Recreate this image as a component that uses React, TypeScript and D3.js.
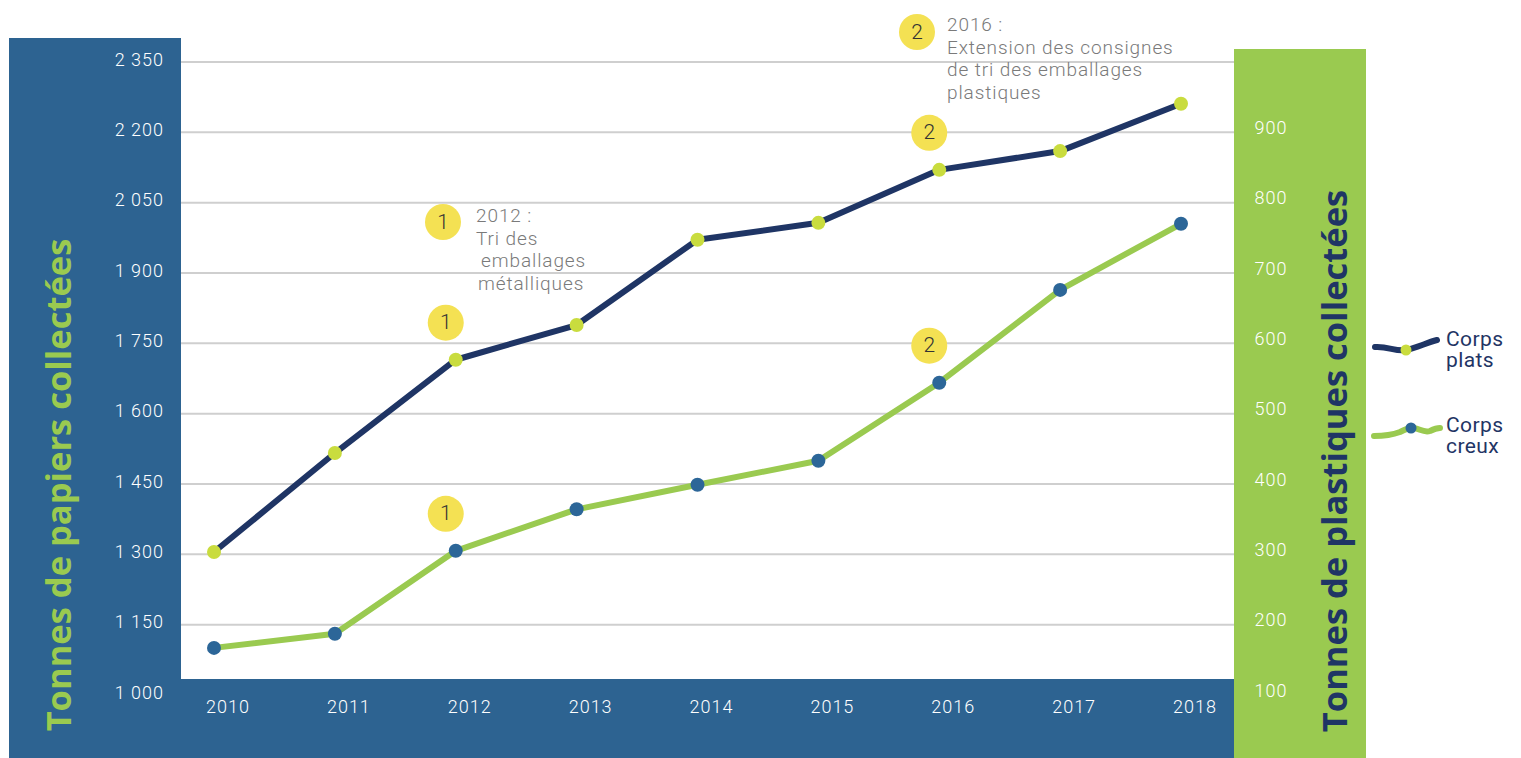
import { useEffect, useRef } from "react";
import * as d3 from "d3";

// data
const years = ["2010", "2011", "2012", "2013", "2014", "2015", "2016", "2017", "2018"];
const corpsPlats = [1305, 1516, 1715, 1789, 1971, 2007, 2120, 2160, 2261]; // left axis (papiers)
const corpsCreux = [167, 187, 305, 364, 399, 433, 544, 676, 770]; // right axis (plastiques)
const leftTicks = [1000, 1150, 1300, 1450, 1600, 1750, 1900, 2050, 2200, 2350];
const rightTicks = [100, 200, 300, 400, 500, 600, 700, 800, 900];
const gridTicks = [1150, 1300, 1450, 1600, 1750, 1900, 2050, 2200, 2350];

const annotations = [
    { year: "2012", series: "plats", label: "1" },
    { year: "2012", series: "creux", label: "1" },
    { year: "2016", series: "plats", label: "2" },
    { year: "2016", series: "creux", label: "2" },
];

const BLUE = "#2d6391";
const GREEN = "#9aca50";
const NAVY = "#1f3565";
const DOT_GREEN = "#c9dc3e";
const DOT_BLUE = "#2c6698";
const YELLOW = "#f4e153";
const NOTE = "#7a7a7a";
const FONT = "Roboto, 'Open Sans', sans-serif";

const fmt = (v: number) => (v >= 1000 ? `${Math.floor(v / 1000)} ${String(v % 1000).padStart(3, "0")}` : String(v));

const App = () => {
    const ref = useRef<SVGSVGElement>(null);

    useEffect(() => {
        document.body.style.margin = "0";
        const svg = d3.select(ref.current);
        svg.selectAll("*").remove();

        const x = d3.scalePoint<string>().domain(years).range([214, 1181]);
        const yL = d3.scaleLinear().domain([1000, 2350]).range([695, 62]);
        const yR = d3.scaleLinear().domain([100, 1000]).range([695, 62]);

        // gridlines
        svg.append("g")
            .selectAll("line")
            .data(gridTicks)
            .enter().append("line")
            .attr("x1", 181)
            .attr("x2", 1234)
            .attr("y1", d => yL(d))
            .attr("y2", d => yL(d))
            .attr("stroke", "#cfcfcf")
            .attr("stroke-width", 2);

        // panels
        svg.append("rect").attr("x", 9).attr("y", 38).attr("width", 172).attr("height", 720).attr("fill", BLUE);
        svg.append("rect").attr("x", 9).attr("y", 679).attr("width", 1226).attr("height", 79).attr("fill", BLUE);
        svg.append("rect").attr("x", 1234).attr("y", 49).attr("width", 132).attr("height", 709).attr("fill", GREEN);

        // left ticks
        svg.append("g")
            .selectAll("text")
            .data(leftTicks)
            .enter().append("text")
            .attr("x", 164)
            .attr("y", d => yL(d) - 1)
            .attr("text-anchor", "end")
            .attr("dominant-baseline", "middle")
            .attr("fill", "#ffffff")
            .attr("font-family", FONT)
            .attr("font-weight", 300)
            .attr("font-size", "18px")
            .attr("letter-spacing", "1px")
            .text(d => fmt(d));

        // right ticks
        svg.append("g")
            .selectAll("text")
            .data(rightTicks)
            .enter().append("text")
            .attr("x", 1271)
            .attr("y", d => yR(d) - 3)
            .attr("text-anchor", "middle")
            .attr("dominant-baseline", "middle")
            .attr("fill", "#ffffff")
            .attr("font-family", FONT)
            .attr("font-weight", 300)
            .attr("font-size", "18px")
            .attr("letter-spacing", "1px")
            .text(d => d);

        // x labels
        svg.append("g")
            .selectAll("text")
            .data(years)
            .enter().append("text")
            .attr("x", d => (x(d) as number) + 14)
            .attr("y", 708)
            .attr("text-anchor", "middle")
            .attr("dominant-baseline", "middle")
            .attr("fill", "#ffffff")
            .attr("font-family", FONT)
            .attr("font-weight", 300)
            .attr("font-size", "18px")
            .attr("letter-spacing", "1px")
            .text(d => d);

        // axis titles
        svg.append("text")
            .attr("transform", `translate(71, 485) rotate(-90)`)
            .attr("text-anchor", "middle")
            .attr("fill", GREEN)
            .attr("font-family", "'Open Sans', sans-serif")
            .attr("font-weight", 700)
            .attr("font-size", "34.5px")
            .text("Tonnes de papiers collectées");

        svg.append("text")
            .attr("transform", `translate(1347, 461) rotate(-90)`)
            .attr("text-anchor", "middle")
            .attr("fill", NAVY)
            .attr("font-family", "'Open Sans', sans-serif")
            .attr("font-weight", 700)
            .attr("font-size", "34.5px")
            .text("Tonnes de plastiques collectées");

        // lines
        const platsData = years.map((yr, i) => ({ year: yr, value: corpsPlats[i] }));
        const creuxData = years.map((yr, i) => ({ year: yr, value: corpsCreux[i] }));

        const linePlats = d3.line<{ year: string; value: number }>()
            .x(d => x(d.year) as number)
            .y(d => yL(d.value));
        const lineCreux = d3.line<{ year: string; value: number }>()
            .x(d => x(d.year) as number)
            .y(d => yR(d.value));

        svg.append("path")
            .datum(platsData)
            .attr("d", linePlats)
            .attr("fill", "none")
            .attr("stroke", NAVY)
            .attr("stroke-width", 6)
            .attr("stroke-linejoin", "round");

        svg.append("path")
            .datum(creuxData)
            .attr("d", lineCreux)
            .attr("fill", "none")
            .attr("stroke", GREEN)
            .attr("stroke-width", 6)
            .attr("stroke-linejoin", "round");

        svg.selectAll(".dot-plats")
            .data(platsData)
            .enter().append("circle")
            .attr("class", "dot-plats")
            .attr("cx", d => x(d.year) as number)
            .attr("cy", d => yL(d.value))
            .attr("r", 7)
            .attr("fill", DOT_GREEN);

        svg.selectAll(".dot-creux")
            .data(creuxData)
            .enter().append("circle")
            .attr("class", "dot-creux")
            .attr("cx", d => x(d.year) as number)
            .attr("cy", d => yR(d.value))
            .attr("r", 7)
            .attr("fill", DOT_BLUE);

        // numbered badges above the points
        const badge = (cx: number, cy: number, label: string) => {
            svg.append("circle").attr("cx", cx).attr("cy", cy).attr("r", 18).attr("fill", YELLOW);
            svg.append("text")
                .attr("x", cx)
                .attr("y", cy + 1)
                .attr("text-anchor", "middle")
                .attr("dominant-baseline", "middle")
                .attr("fill", "#333333")
                .attr("font-family", FONT)
                .attr("font-weight", 300)
                .attr("font-size", "21px")
                .text(label);
        };

        annotations.forEach(a => {
            const i = years.indexOf(a.year);
            const px = x(a.year) as number;
            const py = a.series === "plats" ? yL(corpsPlats[i]) : yR(corpsCreux[i]);
            badge(px - 10, py - 37, a.label);
        });

        // notes
        const note = (x0: number, y0: number, lines: string[], dx: number[] = []) => {
            const t = svg.append("text")
                .attr("fill", NOTE)
                .attr("font-family", FONT)
                .attr("font-weight", 300)
                .attr("font-size", "19px")
                .attr("letter-spacing", "0.9px");
            lines.forEach((l, i) => {
                t.append("tspan")
                    .attr("x", x0 + (dx[i] || 0))
                    .attr("y", y0 + i * 22.5)
                    .text(l);
            });
        };

        badge(443, 222, "1");
        note(476, 222, ["2012 :", "Tri des", "emballages", "métalliques"], [0, 0, 5, 2]);

        badge(917, 32, "2");
        note(947, 31, ["2016 :", "Extension des consignes", "de tri des emballages", "plastiques"]);

        // legend
        const leg = svg.append("g");
        leg.append("path")
            .attr("d", "M1375,347 C1388,346 1396,352 1406,350 C1416,348 1426,343 1437,340")
            .attr("fill", "none")
            .attr("stroke", NAVY)
            .attr("stroke-width", 6)
            .attr("stroke-linecap", "round");
        leg.append("circle").attr("cx", 1406).attr("cy", 350).attr("r", 5.5).attr("fill", DOT_GREEN);

        leg.append("path")
            .attr("d", "M1374,436 C1385,436 1392,435 1400,432 C1406,429 1410,427 1414,428 C1420,429 1424,433 1430,431 C1434,429 1437,428 1440,428")
            .attr("fill", "none")
            .attr("stroke", GREEN)
            .attr("stroke-width", 6)
            .attr("stroke-linecap", "round");
        leg.append("circle").attr("cx", 1411).attr("cy", 428).attr("r", 5.5).attr("fill", DOT_BLUE);

        const legText = (y0: number, lines: string[]) => {
            const t = leg.append("text")
                .attr("fill", NAVY)
                .attr("font-family", FONT)
                .attr("font-weight", 400)
                .attr("font-size", "21px")
                .attr("letter-spacing", "0.4px");
            lines.forEach((l, i) => {
                t.append("tspan").attr("x", 1446).attr("y", y0 + i * 21).text(l);
            });
        };
        legText(346, ["Corps", "plats"]);
        legText(432, ["Corps", "creux"]);
    }, []);

    return <svg ref={ref} width={1521} height={758} style={{ display: "block" }} />;
};

export default App;
